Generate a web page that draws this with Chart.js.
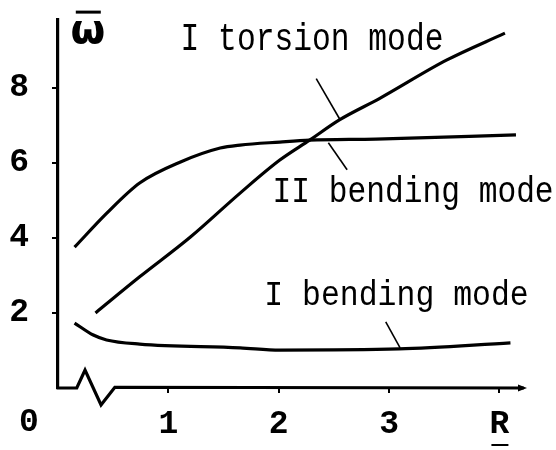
<!DOCTYPE html>
<html>
<head>
<meta charset="utf-8">
<script src="https://cdn.jsdelivr.net/npm/chart.js@4/dist/chart.umd.min.js"></script>
<style>
  html, body { margin: 0; padding: 0; background: #fff; }
  canvas { display: block; }
</style>
</head>
<body>
<canvas id="c" width="556" height="450"></canvas>
<script>
// Dimensionless frequency of the first modes against the parameter R
const torsionR = [0.34, 0.74, 1.2, 1.65, 2.01, 2.28, 2.55, 2.92, 3.52, 4.05];
const torsionW = [2.0, 2.96, 4.02, 5.19, 6.07, 6.6, 7.14, 7.72, 8.73, 9.45];

const bend2R = [0.15, 0.44, 0.74, 1.11, 1.47, 1.65, 2.01, 2.28, 2.88, 4.15];
const bend2W = [3.75, 4.65, 5.46, 6.02, 6.39, 6.47, 6.55, 6.6, 6.63, 6.74];

const bend1R = [0.15, 0.32, 0.44, 0.74, 1.65, 2.01, 3.09, 4.1];
const bend1W = [1.73, 1.41, 1.28, 1.17, 1.07, 1.01, 1.04, 1.2];

// Axis ticks
const xTicks = [1, 2, 3, 4];
const xTickText = ['1', '2', '3', 'R'];
const yTicks = [2, 4, 6, 8];

// Curve captions and the short leader strokes pointing at each curve
const captions = ['I torsion mode', 'II bending mode', 'I bending mode'];
const leaderTorsion = [[2.34, 8.24], [2.555, 7.15]];
const leaderBend2 = [[2.45, 6.53], [2.62, 5.81]];
const leaderBend1 = [[2.97, 1.76], [3.1, 1.07]];

const toPoints = (xs, ys) => xs.map((x, i) => ({ x, y: ys[i] }));
const pairPoints = (pp) => pp.map(([x, y]) => ({ x, y }));

const curve = (data) => ({
  data, showLine: true, borderColor: '#000', borderWidth: 3.2,
  pointRadius: 0, cubicInterpolationMode: 'monotone', fill: false
});
const leader = (data) => ({
  data, showLine: true, borderColor: '#000', borderWidth: 1.6,
  pointRadius: 0, tension: 0, fill: false
});

const MONO = '"Liberation Mono", "DejaVu Sans Mono", monospace';

// Draw a caption so that its ink spans [left, right] with a given cap height
function fitText(ctx, str, left, right, baseline, capH, font) {
  ctx.save();
  ctx.textAlign = 'left';
  ctx.textBaseline = 'alphabetic';
  ctx.font = '100px ' + font;
  const capRatio = ctx.measureText('I').actualBoundingBoxAscent / 100;
  const size = capH / capRatio;
  ctx.font = size + 'px ' + font;
  const m = ctx.measureText(str);
  const w = m.actualBoundingBoxLeft + m.actualBoundingBoxRight;
  const sx = (right - left) / w;
  ctx.translate(left, baseline);
  ctx.scale(sx, 1);
  ctx.fillStyle = '#000';
  ctx.fillText(str, m.actualBoundingBoxLeft, 0);
  ctx.restore();
}

const decor = {
  id: 'decor',
  afterDraw(chart) {
    const { ctx, scales: { x, y }, chartArea } = chart;
    const px = (v) => x.getPixelForValue(v);
    const py = (v) => y.getPixelForValue(v);
    ctx.save();
    ctx.strokeStyle = '#000';
    ctx.fillStyle = '#000';
    ctx.lineJoin = 'miter';

    // Horizontal axis with a break symbol near the origin
    const axisPath = [[0, 0], [0.17, 0], [0.245, 0.48], [0.39, -0.45], [0.515, 0.02], [4.22, 0]];
    ctx.lineWidth = 3.2;
    ctx.beginPath();
    axisPath.forEach(([vx, vy], i) => {
      const X = px(vx), Y = py(vy);
      if (i === 0) ctx.moveTo(X - 1.5, Y); else ctx.lineTo(X, Y);
    });
    ctx.stroke();
    // arrow head
    const ax = px(4.25), ay = py(0);
    ctx.beginPath();
    ctx.moveTo(ax, ay);
    ctx.lineTo(ax - 9, ay - 3.5);
    ctx.lineTo(ax - 9, ay + 3.5);
    ctx.closePath();
    ctx.fill();

    // Origin label
    ctx.font = 'bold 33px ' + MONO;
    ctx.textAlign = 'center';
    ctx.textBaseline = 'middle';
    ctx.fillText('0', px(0) - 29, chartArea.bottom + 35);

    // Underline under R
    ctx.lineWidth = 2;
    ctx.beginPath();
    ctx.moveTo(px(4) - 8, chartArea.bottom + 57);
    ctx.lineTo(px(4) + 9, chartArea.bottom + 57);
    ctx.stroke();

    // Ordinate symbol: omega with a bar
    ctx.font = 'bold 40px "DejaVu Sans", sans-serif';
    ctx.textAlign = 'center';
    ctx.textBaseline = 'alphabetic';
    const ox = px(0.27);
    ctx.fillText('\u03c9', ox, py(9.19));
    ctx.lineWidth = 3;
    ctx.beginPath();
    ctx.moveTo(ox - 12, py(10.01));
    ctx.lineTo(ox + 13, py(10.01));
    ctx.stroke();

    // Curve captions
    fitText(ctx, captions[0], px(1.133), px(3.48), py(9.0), 25, MONO);
    fitText(ctx, captions[1], px(1.967), px(4.477), py(4.95), 24, MONO);
    fitText(ctx, captions[2], px(1.894), px(4.25), py(2.21), 23, MONO);
    ctx.restore();
  }
};

new Chart(document.getElementById('c'), {
  type: 'scatter',
  data: {
    datasets: [
      curve(toPoints(torsionR, torsionW)),
      curve(toPoints(bend2R, bend2W)),
      curve(toPoints(bend1R, bend1W)),
      leader(pairPoints(leaderTorsion)),
      leader(pairPoints(leaderBend2)),
      leader(pairPoints(leaderBend1))
    ]
  },
  options: {
    responsive: false,
    animation: false,
    devicePixelRatio: 1,
    layout: { padding: { top: 20, right: 29, left: 0, bottom: 0 } },
    plugins: { legend: { display: false }, tooltip: { enabled: false } },
    scales: {
      x: {
        type: 'linear', min: 0, max: 4.25,
        border: { display: false },
        grid: { drawOnChartArea: false, drawTicks: true, tickLength: 5, color: '#000', lineWidth: 2 },
        ticks: {
          color: '#000', padding: 12,
          font: { family: MONO, size: 33, weight: 'bold' },
          callback: (v) => xTickText[xTicks.indexOf(v)] ?? ''
        },
        afterBuildTicks: (s) => { s.ticks = xTicks.map((v) => ({ value: v })); },
        afterFit: (s) => { s.height = 62; s.paddingLeft = 0; s.paddingRight = 0; }
      },
      y: {
        type: 'linear', min: 0, max: 9.8,
        border: { display: true, color: '#000', width: 3.2 },
        grid: { drawOnChartArea: false, drawTicks: true, tickLength: 6, color: '#000', lineWidth: 2 },
        ticks: {
          color: '#000', padding: 23,
          font: { family: MONO, size: 33, weight: 'bold' },
          callback: (v) => String(v)
        },
        afterBuildTicks: (s) => { s.ticks = yTicks.map((v) => ({ value: v })); },
        afterFit: (s) => { s.width = 58; s.paddingTop = 0; s.paddingBottom = 0; }
      }
    }
  },
  plugins: [decor]
});
</script>
</body>
</html>
